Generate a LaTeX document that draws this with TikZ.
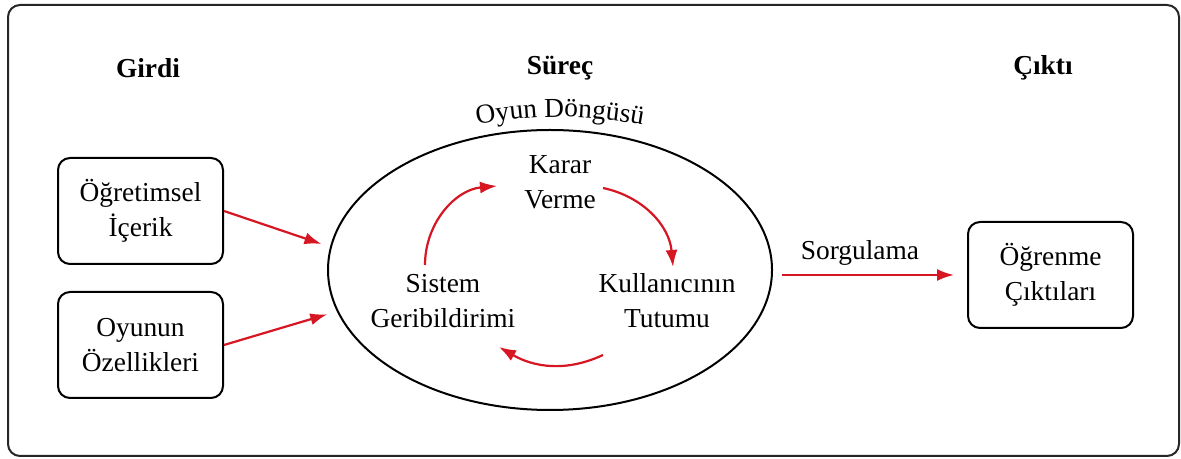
\documentclass[tikz,border=0pt]{standalone}
\usepackage{fontspec}
\setmainfont{Liberation Serif}
\usetikzlibrary{positioning,shapes.geometric,arrows.meta,decorations.text}
\definecolor{arrowred}{RGB}{214,22,34}

\begin{document}
\begin{tikzpicture}[x=0.5pt, y=0.5pt, font=\fontsize{13.7}{17.5}\selectfont]
    \tikzset{
        box/.style={draw, line width=1pt, rounded corners=6pt, minimum width=82.5pt, minimum height=53pt, align=center},
        flow/.style={draw=arrowred, line width=1.1pt, -{Latex[length=8.5pt, width=6pt]}},
    }
    \useasboundingbox (0,0) rectangle (1181,459);
    \draw[line width=1pt, rounded corners=6pt, draw=black!85] (8,3) rectangle (1179,454);

    \node[] (girdi) at (148,391) {\textbf{Girdi}};
    \node[] (surec) at (560,391) {\textbf{Süreç}};
    \node[] (cikti) at (1043,391) {\textbf{Çıktı}};

    \node[box] (in1) at (140.5,248) {Öğretimsel\\İçerik};
    \node[box] (in2) at (140.5,114) {Oyunun\\Özellikleri};
    \node[box] (res) at (1050.5,184) {Öğrenme\\Çıktıları};

    \node[draw, ellipse, line width=1pt, inner sep=0pt, minimum width=222pt, minimum height=140pt] (loop) at (550,189) {};
    \path[decorate, decoration={text along path, text align=center,
        text={|\fontsize{13.7}{16}\selectfont|Oyun Döngüsü}}] (452,329) to[bend left=12] (668,329);

    \node[align=center] (karar) at (560,277) {Karar\\Verme};
    \node[align=center] (geri) at (443,158) {Sistem\\Geribildirimi};
    \node[align=center] (tutum) at (667,158) {Kullanıcının\\Tutumu};

    \coordinate (a1) at (425,194);
    \coordinate (a2) at (497,273);
    \coordinate (b1) at (603,271);
    \coordinate (b2) at (673,192);
    \coordinate (c1) at (603,104);
    \coordinate (c2) at (499,112);
    \draw[flow] (a1) to[out=90, in=185] (a2);
    \draw[flow] (b1) to[out=-12, in=95] (b2);
    \draw[flow] (c1) to[out=205, in=-30] (c2);

    \draw[flow, shorten >=4.5pt] (in1.east) -- (loop.174);
    \draw[flow, shorten >=5pt] (in2.east) -- (loop.191);

    \node[] (sorg) at (860,206) {Sorgulama};
    \draw[flow, shorten <=4.5pt, shorten >=6.5pt] (loop.east |- res.west) -- (res.west);

\end{tikzpicture}
\end{document}
